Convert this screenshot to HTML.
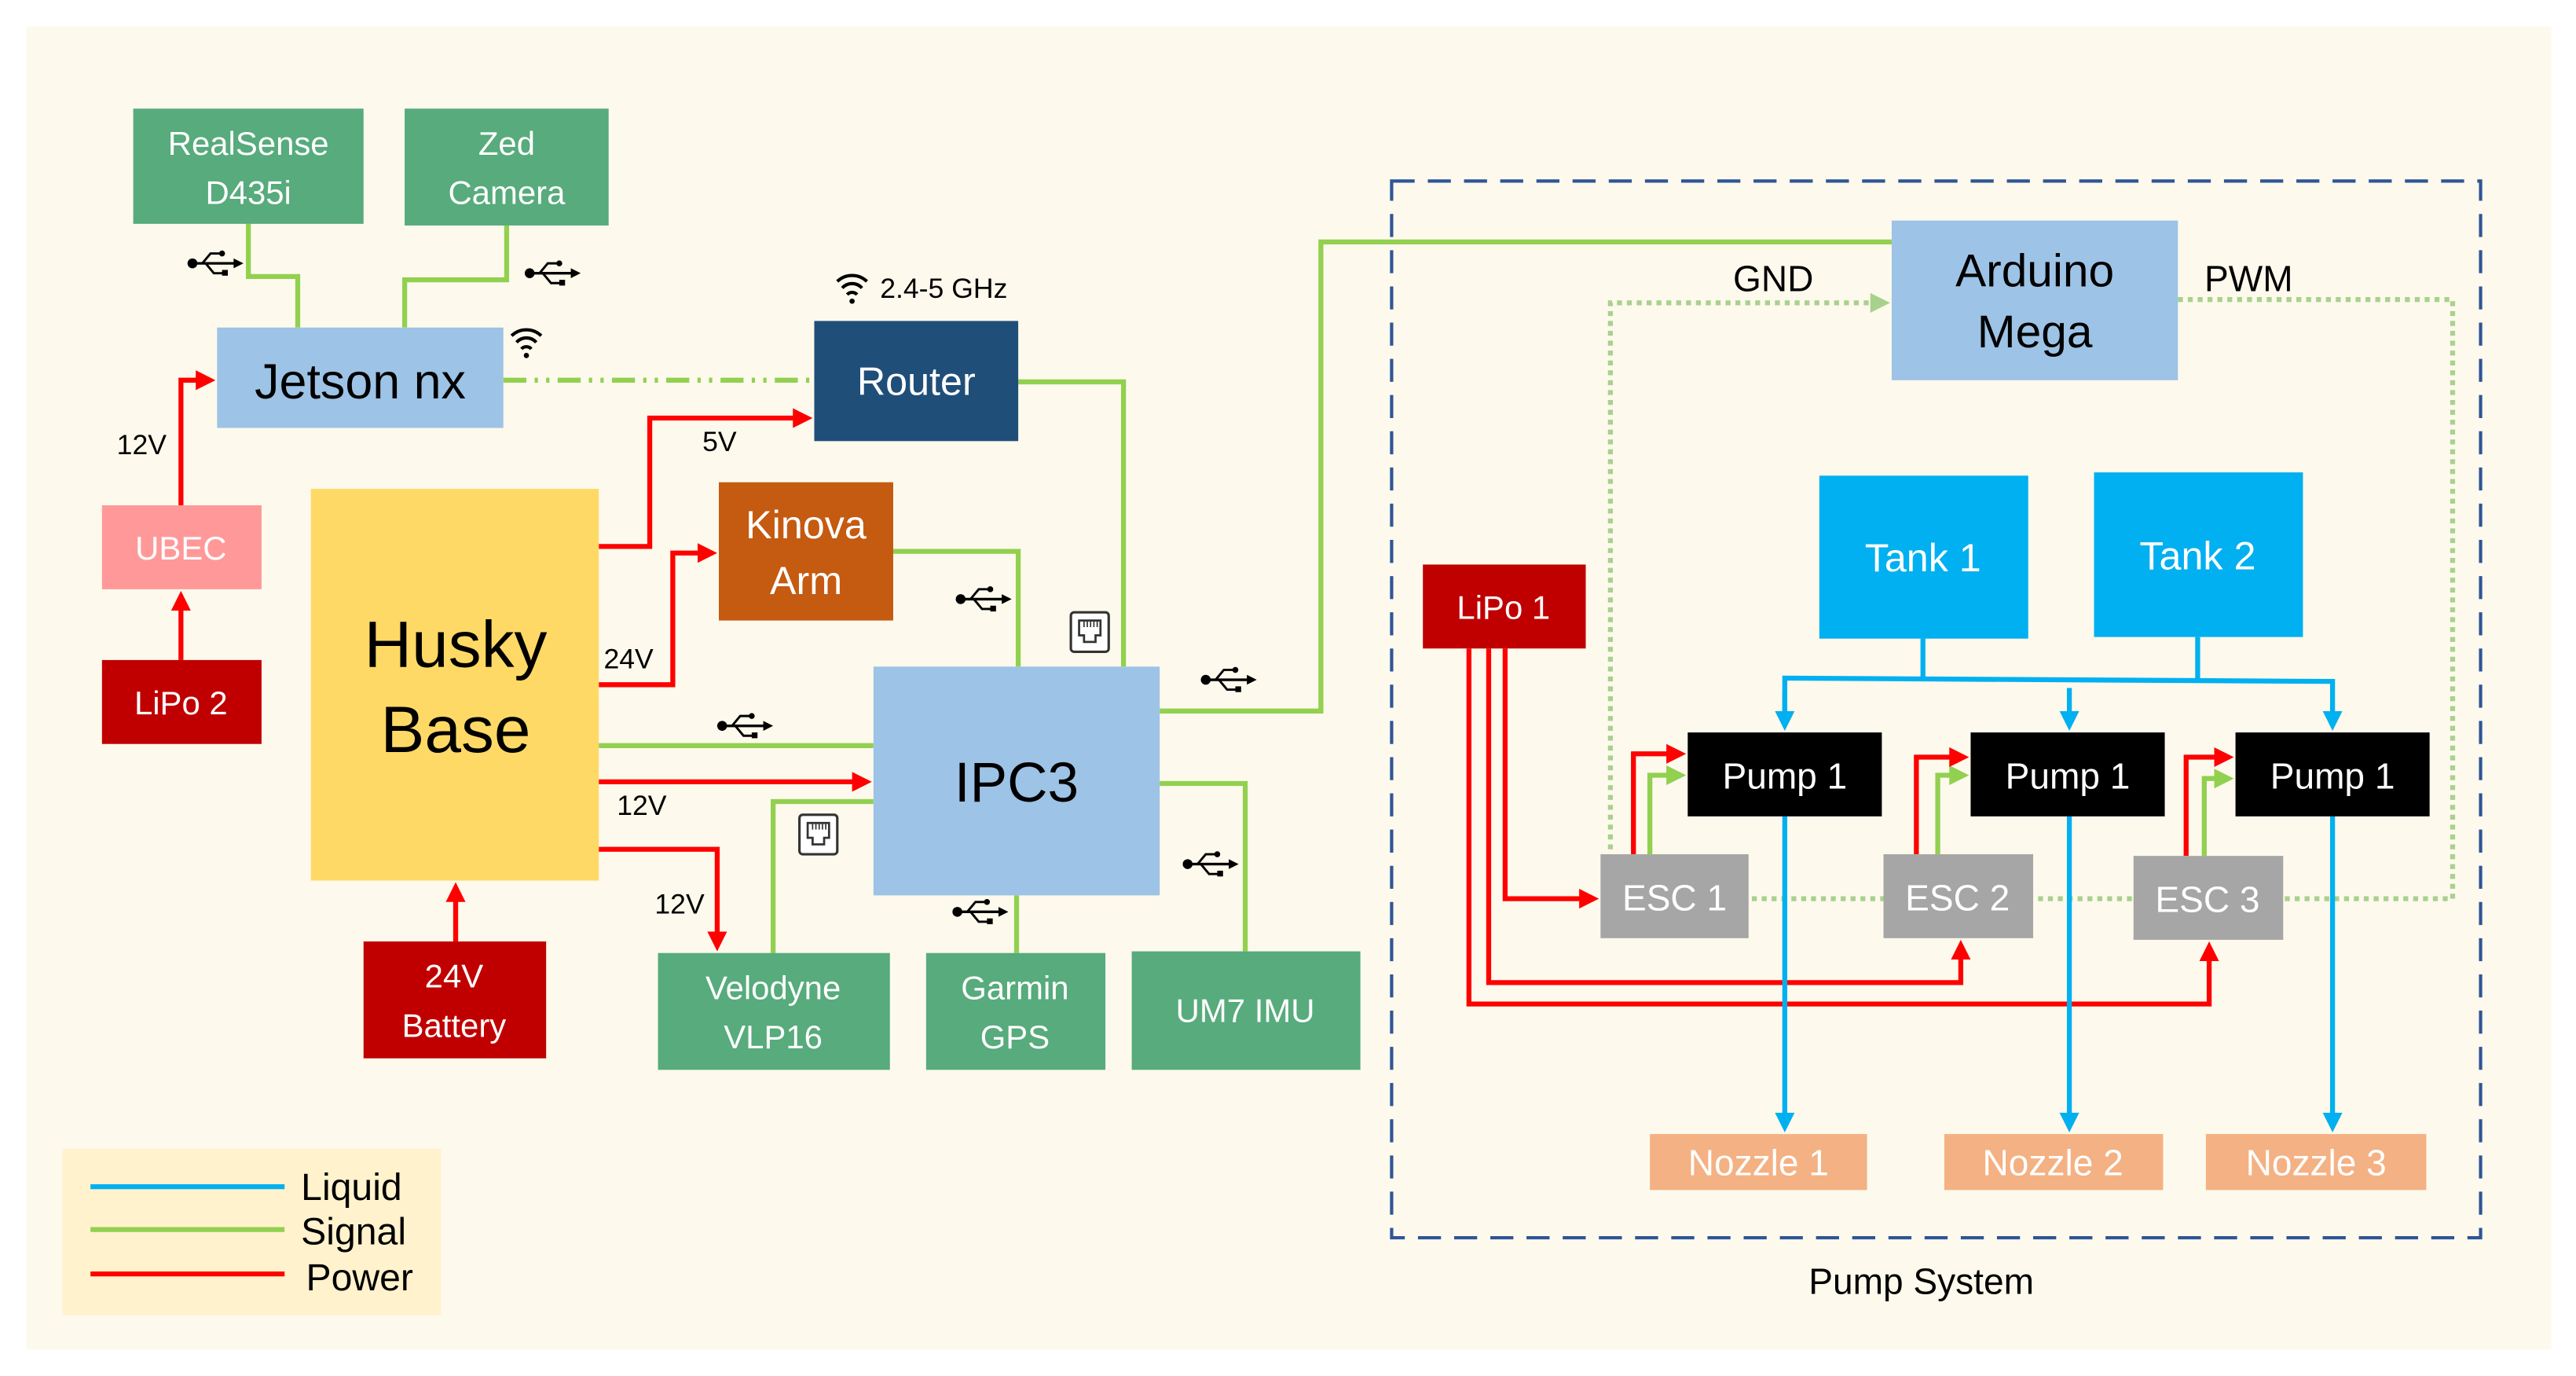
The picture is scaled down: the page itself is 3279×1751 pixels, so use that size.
<!DOCTYPE html>
<html><head><meta charset="utf-8"><style>html,body{margin:0;padding:0;background:#fff}svg{display:block}text{font-family:"Liberation Sans",sans-serif}</style></head>
<body>
<svg width="3279" height="1751" viewBox="0 0 1566 836" preserveAspectRatio="none" xmlns="http://www.w3.org/2000/svg">
<defs>
<marker id="ar" markerWidth="4" markerHeight="4" refX="3" refY="2" orient="auto" markerUnits="strokeWidth"><path d="M0,0 L4,2 L0,4 z" fill="#ff0000"/></marker>
<marker id="ag" markerWidth="4" markerHeight="4" refX="3" refY="2" orient="auto" markerUnits="strokeWidth"><path d="M0,0 L4,2 L0,4 z" fill="#92d050"/></marker>
<marker id="al" markerWidth="4" markerHeight="4" refX="3" refY="2" orient="auto" markerUnits="strokeWidth"><path d="M0,0 L4,2 L0,4 z" fill="#a9d18e"/></marker>
<marker id="ab" markerWidth="4" markerHeight="4" refX="3" refY="2" orient="auto" markerUnits="strokeWidth"><path d="M0,0 L4,2 L0,4 z" fill="#00b0f0"/></marker>
<g id="usb" fill="#000" stroke="#000">
<circle cx="3" cy="0" r="3" stroke="none"/>
<line x1="3" y1="0" x2="30" y2="0" stroke-width="1.6"/>
<path d="M34,0 L28,-3 L28,3 z" stroke="none"/>
<polyline points="9,0 14,-6 20,-6" fill="none" stroke-width="1.4"/>
<circle cx="21" cy="-6" r="1.8" stroke="none"/>
<polyline points="11,0 16,6 22,6" fill="none" stroke-width="1.4"/>
<rect x="21" y="4" width="3.5" height="3.5" stroke="none"/>
</g>
<g id="eth">
<rect x="0" y="0" width="23" height="24" rx="2" fill="#fff" stroke="#333" stroke-width="1.5"/>
<path d="M5,5 H18 V14 H15 V18 H8 V14 H5 Z" fill="none" stroke="#333" stroke-width="1.3"/>
<path d="M8,5 V9 M10,5 V9 M12,5 V9 M14,5 V9 M16,5 V9" stroke="#333" stroke-width="0.8"/>
</g>
<g id="wifi" fill="none" stroke="#000" stroke-width="2">
<path d="M-9,-7 A13,13 0 0 1 9,-7"/><path d="M-6,-3 A8,8 0 0 1 6,-3"/><path d="M-3,1 A4,4 0 0 1 3,1"/>
<circle cx="0" cy="5" r="1.6" fill="#000" stroke="none"/>
</g>
</defs>
<rect x="0" y="0" width="1566" height="836" fill="#fff"/>
<rect x="16" y="16" width="1535" height="804" fill="#fdf9ec"/>

<!-- Green signal lines -->
<g fill="none" stroke="#92d050" stroke-width="3">
<polyline points="151,136 151,168 181,168 181,199"/>
<polyline points="308,137 308,170 246,170 246,199"/>
<polyline points="364,453 531,453"/>
<polyline points="543,335 619,335 619,405"/>
<polyline points="619,232 683,232 683,405"/>
<polyline points="470,579 470,487 531,487"/>
<polyline points="618,579 618,544"/>
<polyline points="757,578 757,476 705,476"/>
<polyline points="705,432 803,432 803,147 1150,147"/>
<line x1="306" y1="231" x2="495" y2="231" stroke-dasharray="14,5,2,5,2,5"/>
<polyline points="1003,519 1003,471 1022,471" marker-end="url(#ag)"/>
<polyline points="1178,519 1178,471 1194,471" marker-end="url(#ag)"/>
<polyline points="1340,520 1340,473 1355,473" marker-end="url(#ag)"/>
</g>
<!-- dotted light green -->
<g fill="none" stroke="#a9d18e" stroke-width="3" stroke-dasharray="3,3">
<polyline points="979,546 979,184 1146,184" marker-end="url(#al)"/>
<polyline points="1324,182 1491,182 1491,546 979,546"/>
</g>
<!-- Red power -->
<g fill="none" stroke="#ff0000" stroke-width="3">
<polyline points="110,307 110,231 128,231" marker-end="url(#ar)"/>
<polyline points="110,401 110,362" marker-end="url(#ar)"/>
<polyline points="364,332 395,332 395,254 491,254" marker-end="url(#ar)"/>
<polyline points="364,416 409,416 409,336 433,336" marker-end="url(#ar)"/>
<polyline points="364,475 527,475" marker-end="url(#ar)"/>
<polyline points="364,516 436,516 436,575" marker-end="url(#ar)"/>
<polyline points="277,572 277,539" marker-end="url(#ar)"/>
<polyline points="993,519 993,458 1022,458" marker-end="url(#ar)"/>
<polyline points="1165,519 1165,460 1194,460" marker-end="url(#ar)"/>
<polyline points="1329,520 1329,460 1355,460" marker-end="url(#ar)"/>
<polyline points="915,394 915,546 969,546" marker-end="url(#ar)"/>
<polyline points="905,394 905,597 1192,597 1192,574" marker-end="url(#ar)"/>
<polyline points="893,394 893,610 1343,610 1343,575" marker-end="url(#ar)"/>
</g>
<!-- Blue liquid -->
<g fill="none" stroke="#00b0f0" stroke-width="3">
<polyline points="1169,388 1169,412"/>
<polyline points="1336,387 1336,413"/>
<polyline points="1085,441 1085,412 1418,414 1418,441" marker-end="url(#ab)"/>
<polyline points="1085,420 1085,441" marker-end="url(#ab)"/>
<polyline points="1258,418 1258,441" marker-end="url(#ab)"/>
<polyline points="1085,496 1085,685" marker-end="url(#ab)"/>
<polyline points="1258,496 1258,685" marker-end="url(#ab)"/>
<polyline points="1418,496 1418,685" marker-end="url(#ab)"/>
</g>

<!-- dashed pump system box -->
<rect x="846" y="110" width="662" height="642" fill="none" stroke="#2f5597" stroke-width="2" stroke-dasharray="14,8"/>
<text x="1168" y="786" font-size="22" text-anchor="middle">Pump System</text>

<!-- Boxes -->
<g font-size="20" fill="#fff" text-anchor="middle">
<rect x="81" y="66" width="140" height="70" fill="#57ab7c"/>
<text x="151" y="94">RealSense</text><text x="151" y="124">D435i</text>
<rect x="246" y="66" width="124" height="71" fill="#57ab7c"/>
<text x="308" y="94">Zed</text><text x="308" y="124">Camera</text>
<rect x="132" y="199" width="174" height="61" fill="#9dc3e6"/>
<text x="219" y="242" font-size="30" fill="#000">Jetson nx</text>
<rect x="495" y="195" width="124" height="73" fill="#1f4e79"/>
<text x="557" y="240" font-size="24">Router</text>
<rect x="437" y="293" width="106" height="84" fill="#c55a11"/>
<text x="490" y="327" font-size="24">Kinova</text><text x="490" y="361" font-size="24">Arm</text>
<rect x="189" y="297" width="175" height="238" fill="#ffd966"/>
<text x="277" y="405" font-size="40" fill="#000">Husky</text><text x="277" y="457" font-size="40" fill="#000">Base</text>
<rect x="62" y="307" width="97" height="51" fill="#ff9999"/>
<text x="110" y="340">UBEC</text>
<rect x="62" y="401" width="97" height="51" fill="#c00000"/>
<text x="110" y="434">LiPo 2</text>
<rect x="221" y="572" width="111" height="71" fill="#c00000"/>
<text x="276" y="600">24V</text><text x="276" y="630">Battery</text>
<rect x="531" y="405" width="174" height="139" fill="#9dc3e6"/>
<text x="618" y="487" font-size="34" fill="#000">IPC3</text>
<rect x="400" y="579" width="141" height="71" fill="#57ab7c"/>
<text x="470" y="607">Velodyne</text><text x="470" y="637">VLP16</text>
<rect x="563" y="579" width="109" height="71" fill="#57ab7c"/>
<text x="617" y="607">Garmin</text><text x="617" y="637">GPS</text>
<rect x="688" y="578" width="139" height="72" fill="#57ab7c"/>
<text x="757" y="621">UM7 IMU</text>
<rect x="1150" y="134" width="174" height="97" fill="#9dc3e6"/>
<text x="1237" y="174" font-size="28" fill="#000">Arduino</text><text x="1237" y="211" font-size="28" fill="#000">Mega</text>
<rect x="1106" y="289" width="127" height="99" fill="#00b0f0"/>
<text x="1169" y="347" font-size="24">Tank 1</text>
<rect x="1273" y="287" width="127" height="100" fill="#00b0f0"/>
<text x="1336" y="346" font-size="24">Tank 2</text>
<rect x="865" y="343" width="99" height="51" fill="#c00000"/>
<text x="914" y="376">LiPo 1</text>
<rect x="1026" y="445" width="118" height="51" fill="#000"/>
<text x="1085" y="479" font-size="22">Pump 1</text>
<rect x="1198" y="445" width="118" height="51" fill="#000"/>
<text x="1257" y="479" font-size="22">Pump 1</text>
<rect x="1359" y="445" width="118" height="51" fill="#000"/>
<text x="1418" y="479" font-size="22">Pump 1</text>
<rect x="973" y="519" width="90" height="51" fill="#a6a6a6"/>
<text x="1018" y="553" font-size="22">ESC 1</text>
<rect x="1145" y="519" width="91" height="51" fill="#a6a6a6"/>
<text x="1190" y="553" font-size="22">ESC 2</text>
<rect x="1297" y="520" width="91" height="51" fill="#a6a6a6"/>
<text x="1342" y="554" font-size="22">ESC 3</text>
<rect x="1003" y="689" width="132" height="34" fill="#f4b183"/>
<text x="1069" y="714" font-size="22">Nozzle 1</text>
<rect x="1182" y="689" width="133" height="34" fill="#f4b183"/>
<text x="1248" y="714" font-size="22">Nozzle 2</text>
<rect x="1341" y="689" width="134" height="34" fill="#f4b183"/>
<text x="1408" y="714" font-size="22">Nozzle 3</text>
</g>

<!-- Labels -->
<g font-size="17" fill="#000">
<text x="71" y="276">12V</text>
<text x="427" y="274">5V</text>
<text x="367" y="406">24V</text>
<text x="375" y="495">12V</text>
<text x="398" y="555">12V</text>
<text x="535" y="181">2.4-5 GHz</text>
<text x="1078" y="177" font-size="22" text-anchor="middle">GND</text>
<text x="1367" y="177" font-size="22" text-anchor="middle">PWM</text>
</g>
<use href="#wifi" x="518" y="178"/>
<use href="#wifi" x="320" y="211"/>
<use href="#usb" x="114" y="160"/>
<use href="#usb" x="319" y="166"/>
<use href="#usb" x="436" y="441"/>
<use href="#usb" x="581" y="364"/>
<use href="#usb" x="579" y="554"/>
<use href="#usb" x="719" y="525"/>
<use href="#usb" x="730" y="413"/>
<use href="#eth" x="651" y="372"/>
<use href="#eth" x="486" y="495"/>

<!-- Legend -->
<rect x="38" y="698" width="230" height="101" fill="#fff2cc"/>
<line x1="55" y1="721" x2="173" y2="721" stroke="#00b0f0" stroke-width="3"/>
<line x1="55" y1="747" x2="173" y2="747" stroke="#92d050" stroke-width="3"/>
<line x1="55" y1="774" x2="173" y2="774" stroke="#ff0000" stroke-width="3"/>
<g font-size="23" fill="#000">
<text x="183" y="729">Liquid</text>
<text x="183" y="756">Signal</text>
<text x="186" y="784">Power</text>
</g>
</svg>
</body></html>
